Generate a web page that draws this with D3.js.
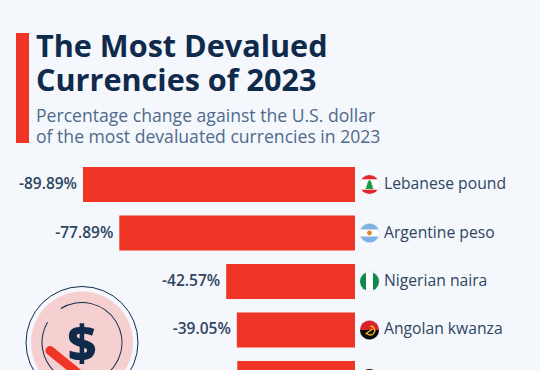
<!DOCTYPE html>
<html>
<head>
<meta charset="utf-8">
<script src="https://cdn.jsdelivr.net/npm/d3@7"></script>
<style>
html, body { margin: 0; padding: 0; background: #f4f7fb; overflow: hidden; }
text { font-family: "Open Sans", sans-serif; }
</style>
</head>
<body>
<div id="chart"></div>
<script>
const currencies = ["Lebanese pound", "Argentine peso", "Nigerian naira", "Angolan kwanza", ""];
const changes = [-89.89, -77.89, -42.57, -39.05, -38.9];
const valueLabels = ["-89.89%", "-77.89%", "-42.57%", "-39.05%", ""];
const titleLines = ["The Most Devalued", "Currencies of 2023"];
const subtitleLines = ["Percentage change against the U.S. dollar", "of the most devaluated currencies in 2023"];

const width = 540, height = 370;
const colors = { red: "#ef3526", navy: "#0f2a4a", slate: "#2f4562", sub: "#4f6a8c", pink: "#f6d0d0" };

const svg = d3.select("#chart").append("svg")
    .attr("width", width)
    .attr("height", height)
    .style("display", "block");

// Header
svg.append("rect").attr("x", 16).attr("y", 33).attr("width", 13).attr("height", 110).attr("fill", colors.red);
svg.selectAll(".title").data(titleLines).enter().append("text")
    .attr("x", 36)
    .attr("y", (d, i) => 56.5 + i * 34.5)
    .attr("font-size", 30.6)
    .attr("font-weight", 700)
    .attr("fill", colors.navy)
    .text(d => d);
svg.selectAll(".subtitle").data(subtitleLines).enter().append("text")
    .attr("x", 36)
    .attr("y", (d, i) => 121.5 + i * 21.5)
    .attr("font-size", 17.6)
    .attr("fill", colors.sub)
    .text(d => d);

// Bars
const x = d3.scaleLinear().domain([-89.89, 0]).range([83, 355]);
const y = d3.scaleBand().domain(d3.range(changes.length)).range([167, 396]).paddingInner(0.278).paddingOuter(0);

svg.selectAll(".bar").data(changes).enter().append("rect")
    .attr("x", d => x(d))
    .attr("y", (d, i) => y(i))
    .attr("width", d => x(0) - x(d))
    .attr("height", y.bandwidth())
    .attr("fill", colors.red);

valueLabels.forEach((d, i) => {
    if (!d) return;
    svg.append("text")
        .attr("x", x(changes[i]) - 6)
        .attr("y", y(i) + y.bandwidth() / 2 + 4.5)
        .attr("text-anchor", "end")
        .attr("font-size", 15.5)
        .attr("font-weight", 600)
        .attr("fill", colors.slate)
        .text(d);
});

currencies.forEach((d, i) => {
    if (!d) return;
    svg.append("text")
        .attr("x", 384)
        .attr("y", y(i) + y.bandwidth() / 2 + 4.5)
        .attr("font-size", 15.7)
        .attr("fill", colors.slate)
        .text(d);
});

// Flags
const flagX = 369.5, flagR = 9.5;
const defs = svg.append("defs");
currencies.forEach((d, i) => {
    defs.append("clipPath").attr("id", "flag" + i).append("circle").attr("r", flagR);
});
const flag = i => {
    const outer = svg.append("g")
        .attr("transform", `translate(${flagX}, ${y(i) + y.bandwidth() / 2})`);
    outer.append("circle").attr("r", flagR + 0.7).attr("fill", "#e4e8ee");
    return outer.append("g").attr("clip-path", `url(#flag${i})`);
};
const band = (g, bx, by, w, h, fill) => g.append("rect").attr("x", bx).attr("y", by).attr("width", w).attr("height", h).attr("fill", fill);

const lb = flag(0);
band(lb, -10, -10, 20, 20, "#fff");
band(lb, -10, -10, 20, 4.8, "#e4262c");
band(lb, -10, 5.2, 20, 4.8, "#e4262c");
lb.append("path").attr("d", "M0,-5 L2.6,-1 L1.6,-1 L3.6,2 L2.4,2 L4.4,4.4 L-4.4,4.4 L-2.4,2 L-3.6,2 L-1.6,-1 L-2.6,-1 Z").attr("fill", "#1f9a48");

const ar = flag(1);
band(ar, -10, -10, 20, 20, "#fff");
band(ar, -10, -10, 20, 6.5, "#7fb2e2");
band(ar, -10, 3.5, 20, 6.5, "#7fb2e2");
ar.append("circle").attr("r", 2.4).attr("fill", "#d98a2b");

const ng = flag(2);
band(ng, -10, -10, 20, 20, "#fff");
band(ng, -10, -10, 6.5, 20, "#0f8a4a");
band(ng, 3.5, -10, 6.5, 20, "#0f8a4a");

const ao = flag(3);
band(ao, -10, -10, 20, 10, "#d8232a");
band(ao, -10, 0, 20, 10, "#0b0b0b");
ao.append("path").attr("d", "M-3,3 A4.5,4.5 0 1 0 1,-4").attr("fill", "none").attr("stroke", "#f2c318").attr("stroke-width", 1.3);
ao.append("path").attr("d", "M-4,4 L3,-1").attr("stroke", "#f2c318").attr("stroke-width", 1.2);

const fifth = flag(4);
band(fifth, -10, -10, 20, 10, "#4a1a22");

// Dollar icon
const icon = svg.append("g").attr("transform", "translate(82, 342.5)");
icon.append("circle").attr("r", 51).attr("fill", colors.pink);
icon.append("circle").attr("r", 56).attr("fill", "none").attr("stroke", colors.navy).attr("stroke-width", 1);
icon.append("path").attr("d", d3.arc()({ innerRadius: 39.5, outerRadius: 40.5, startAngle: -0.556, endAngle: 2.6 })).attr("fill", colors.navy);
icon.append("path").attr("d", d3.arc()({ innerRadius: 39.5, outerRadius: 40.5, startAngle: -2.4, endAngle: -1.04 })).attr("fill", colors.navy);
icon.append("text").attr("x", 0).attr("y", 18).attr("text-anchor", "middle").attr("font-size", 50).attr("font-weight", 800).attr("fill", colors.navy).text("$");
icon.append("line").attr("x1", -32).attr("y1", 8).attr("x2", -5).attr("y2", 30).attr("stroke", colors.red).attr("stroke-width", 9).attr("stroke-linecap", "round");
</script>
</body>
</html>
